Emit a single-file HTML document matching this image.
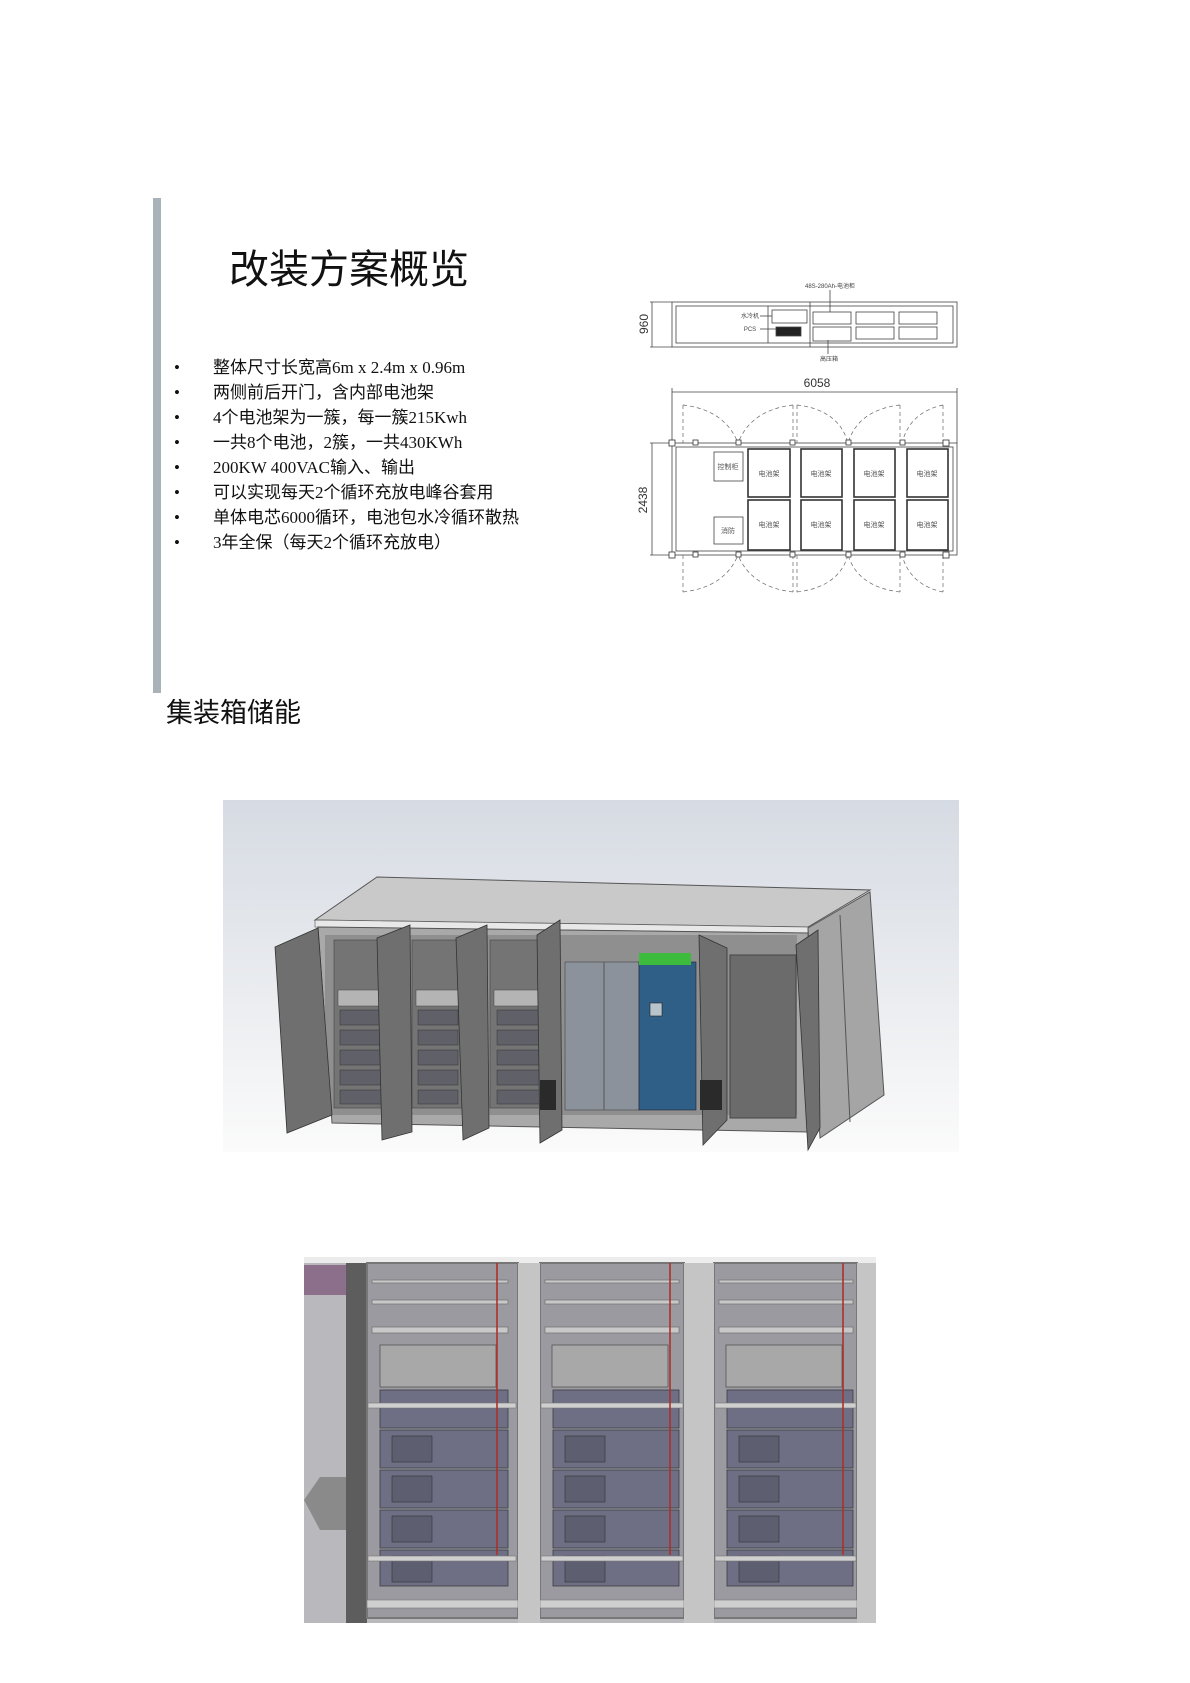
<!DOCTYPE html>
<html><head><meta charset="utf-8"><style>
html,body{margin:0;padding:0;background:#fff;}
body{width:1190px;height:1683px;position:relative;overflow:hidden;}
.t{position:absolute;font-family:"Liberation Sans","Noto Sans CJK SC",sans-serif;color:#111;white-space:nowrap;}
.b{position:absolute;font-family:"Liberation Serif","Noto Sans CJK SC",serif;font-size:17px;color:#111;white-space:nowrap;line-height:20px;}
svg{position:absolute;left:0;top:0;}
</style></head><body>
<div style="position:absolute;left:153px;top:198px;width:8px;height:495px;background:#a9b1b9;"></div>
<div class="t" style="left:229px;top:246px;font-size:40px;line-height:48px;">改装方案概览</div>
<div class="b" style="left:174px;top:358px;">•</div><div class="b" style="left:213px;top:358px;">整体尺寸长宽高6m x 2.4m x 0.96m</div>
<div class="b" style="left:174px;top:383px;">•</div><div class="b" style="left:213px;top:383px;">两侧前后开门，含内部电池架</div>
<div class="b" style="left:174px;top:408px;">•</div><div class="b" style="left:213px;top:408px;">4个电池架为一簇，每一簇215Kwh</div>
<div class="b" style="left:174px;top:433px;">•</div><div class="b" style="left:213px;top:433px;">一共8个电池，2簇，一共430KWh</div>
<div class="b" style="left:174px;top:458px;">•</div><div class="b" style="left:213px;top:458px;">200KW 400VAC输入、输出</div>
<div class="b" style="left:174px;top:483px;">•</div><div class="b" style="left:213px;top:483px;">可以实现每天2个循环充放电峰谷套用</div>
<div class="b" style="left:174px;top:508px;">•</div><div class="b" style="left:213px;top:508px;">单体电芯6000循环，电池包水冷循环散热</div>
<div class="b" style="left:174px;top:533px;">•</div><div class="b" style="left:213px;top:533px;">3年全保（每天2个循环充放电）</div>
<div class="t" style="left:166px;top:697px;font-size:27px;line-height:32px;">集装箱储能</div>

<svg width="1190" height="1683" viewBox="0 0 1190 1683" font-family="Liberation Sans, Noto Sans CJK SC, sans-serif">
<!-- side view -->
<g stroke="#444" fill="none" stroke-width="0.8">
<rect x="672" y="302" width="285" height="45"/>
<rect x="676" y="306" width="277" height="37"/>
<line x1="650" y1="302" x2="672" y2="302"/><line x1="650" y1="347" x2="672" y2="347"/><line x1="652" y1="302" x2="652" y2="347"/>
<line x1="768" y1="306" x2="768" y2="343"/><line x1="810" y1="302" x2="810" y2="347"/>
<rect x="772" y="310" width="35" height="13"/><rect x="776" y="327" width="25" height="9" fill="#222"/>
<rect x="813" y="312" width="38" height="12"/><rect x="856" y="312" width="38" height="12"/><rect x="899" y="312" width="38" height="12"/>
<rect x="813" y="327" width="38" height="14"/><rect x="856" y="327" width="38" height="12"/><rect x="899" y="327" width="38" height="12"/>
<line x1="830" y1="290" x2="830" y2="312"/><line x1="828" y1="340" x2="828" y2="354"/>
<line x1="760" y1="316" x2="772" y2="316"/><line x1="760" y1="329" x2="776" y2="329"/>
</g>
<text x="830" y="288" font-size="6" text-anchor="middle" fill="#444">48S-280Ah-电池柜</text>
<text x="750" y="318" font-size="6" text-anchor="middle" fill="#444">水冷机</text>
<text x="750" y="331" font-size="6" text-anchor="middle" fill="#444">PCS</text>
<text x="829" y="361" font-size="6" text-anchor="middle" fill="#444">高压箱</text>
<text x="648" y="324" font-size="12" fill="#333" text-anchor="middle" transform="rotate(-90 648 324)">960</text>
<!-- plan -->
<text x="817" y="387" font-size="12" fill="#333" text-anchor="middle">6058</text>
<text x="647" y="500" font-size="12" fill="#333" text-anchor="middle" transform="rotate(-90 647 500)">2438</text>
<g stroke="#444" fill="none" stroke-width="0.8">
<line x1="672" y1="392" x2="957" y2="392"/><line x1="672" y1="388" x2="672" y2="443"/><line x1="957" y1="388" x2="957" y2="443"/>
<line x1="650" y1="443" x2="672" y2="443"/><line x1="650" y1="555" x2="672" y2="555"/><line x1="652" y1="443" x2="652" y2="555"/>
<rect x="672" y="443" width="285" height="112"/>
<rect x="676" y="447" width="277" height="104"/>
<rect x="714" y="452" width="29" height="29"/><rect x="714" y="517" width="29" height="27"/>
</g>
<g stroke="#333" fill="none" stroke-width="1.6">
<rect x="748" y="449" width="42" height="48"/><rect x="748" y="500" width="42" height="50"/>
<rect x="801" y="449" width="41" height="48"/><rect x="801" y="500" width="41" height="50"/>
<rect x="854" y="449" width="41" height="48"/><rect x="854" y="500" width="41" height="50"/>
<rect x="907" y="449" width="41" height="48"/><rect x="907" y="500" width="41" height="50"/>
</g>
<g font-size="7" fill="#555" text-anchor="middle">
<text x="728" y="469">控制柜</text><text x="728" y="533">消防</text>
<text x="769" y="476">电池架</text><text x="821" y="476">电池架</text><text x="874" y="476">电池架</text><text x="927" y="476">电池架</text>
<text x="769" y="527">电池架</text><text x="821" y="527">电池架</text><text x="874" y="527">电池架</text><text x="927" y="527">电池架</text>
</g>
<g stroke="#666" fill="none" stroke-width="0.7" stroke-dasharray="4,3">
<line x1="683" y1="405" x2="683" y2="443"/><path d="M683 405 Q725 410 738 443"/>
<line x1="793" y1="405" x2="793" y2="443"/><path d="M793 405 Q751 410 738 443"/>
<line x1="797" y1="405" x2="797" y2="443"/><path d="M797 405 Q839 410 848 443"/>
<line x1="900" y1="405" x2="900" y2="443"/><path d="M900 405 Q858 410 848 443"/>
<line x1="943" y1="405" x2="943" y2="443"/><path d="M943 405 Q910 412 902 443"/>
<line x1="683" y1="555" x2="683" y2="592"/><path d="M683 592 Q725 587 738 555"/>
<line x1="793" y1="555" x2="793" y2="592"/><path d="M793 592 Q751 587 738 555"/>
<line x1="797" y1="555" x2="797" y2="592"/><path d="M797 592 Q839 587 848 555"/>
<line x1="900" y1="555" x2="900" y2="592"/><path d="M900 592 Q858 587 848 555"/>
<line x1="943" y1="555" x2="943" y2="592"/><path d="M943 592 Q910 585 902 555"/>
</g>
<g fill="#fff" stroke="#333" stroke-width="0.8">
<rect x="669" y="440" width="6" height="6"/><rect x="693" y="440" width="5" height="5"/><rect x="736" y="440" width="5" height="5"/><rect x="790" y="440" width="5" height="5"/><rect x="846" y="440" width="5" height="5"/><rect x="900" y="440" width="5" height="5"/><rect x="943" y="440" width="6" height="6"/>
<rect x="669" y="552" width="6" height="6"/><rect x="693" y="552" width="5" height="5"/><rect x="736" y="552" width="5" height="5"/><rect x="790" y="552" width="5" height="5"/><rect x="846" y="552" width="5" height="5"/><rect x="900" y="552" width="5" height="5"/><rect x="943" y="552" width="6" height="6"/>
</g>

<!-- render 1 -->
<defs>
<linearGradient id="bg1" x1="0" y1="0" x2="0" y2="1"><stop offset="0" stop-color="#d6dbe3"/><stop offset="0.6" stop-color="#eceef1"/><stop offset="1" stop-color="#fbfbfb"/></linearGradient>
</defs>
<rect x="223" y="800" width="736" height="352" fill="url(#bg1)"/>
<polygon points="315,920 377,877 870,890 808,927" fill="#c9c9c9" stroke="#555" stroke-width="1"/>
<polygon points="315,920 808,927 808,933 315,927" fill="#e8e8e8" stroke="#666" stroke-width="0.7"/>
<polygon points="318,927 808,933 808,1132 332,1123" fill="#a9a9a9" stroke="#555" stroke-width="1"/>
<polygon points="808,928 870,892 884,1095 820,1138" fill="#a5a5a5" stroke="#555" stroke-width="1"/>
<line x1="840" y1="915" x2="850" y2="1122" stroke="#555"/>
<rect x="325" y="935" width="472" height="180" fill="#8f8f8f"/>
<g fill="#747474" stroke="#444" stroke-width="0.6">
<rect x="334" y="940" width="54" height="168"/><rect x="412" y="940" width="52" height="168"/><rect x="490" y="940" width="58" height="168"/>
</g>
<g fill="#5f6068" stroke="#333" stroke-width="0.5">
<rect x="340" y="1010" width="42" height="15"/><rect x="340" y="1030" width="42" height="15"/><rect x="340" y="1050" width="42" height="15"/><rect x="340" y="1070" width="42" height="15"/><rect x="340" y="1090" width="42" height="14"/>
<rect x="418" y="1010" width="40" height="15"/><rect x="418" y="1030" width="40" height="15"/><rect x="418" y="1050" width="40" height="15"/><rect x="418" y="1070" width="40" height="15"/><rect x="418" y="1090" width="40" height="14"/>
<rect x="497" y="1010" width="44" height="15"/><rect x="497" y="1030" width="44" height="15"/><rect x="497" y="1050" width="44" height="15"/><rect x="497" y="1070" width="44" height="15"/><rect x="497" y="1090" width="44" height="14"/>
</g>
<g fill="#b4b4b4" stroke="#444" stroke-width="0.5"><rect x="338" y="990" width="46" height="16"/><rect x="416" y="990" width="44" height="16"/><rect x="494" y="990" width="48" height="16"/></g>
<rect x="565" y="962" width="74" height="148" fill="#8c929c" stroke="#444" stroke-width="0.6"/>
<line x1="604" y1="962" x2="604" y2="1110" stroke="#555"/>
<rect x="639" y="962" width="57" height="148" fill="#2f5f86" stroke="#223" stroke-width="0.6"/>
<rect x="639" y="953" width="52" height="12" fill="#3dbb3d"/>
<rect x="650" y="1003" width="12" height="13" fill="#b8c4cc" stroke="#222" stroke-width="0.6"/>
<rect x="730" y="955" width="66" height="163" fill="#6b6b6b" stroke="#444"/>
<g fill="#6f6f6f" stroke="#333" stroke-width="0.8">
<polygon points="275,947 318,928 332,1115 287,1133"/>
<polygon points="377,938 410,925 412,1132 382,1140"/>
<polygon points="456,938 487,925 489,1128 463,1140"/>
<polygon points="537,935 560,920 562,1130 540,1143"/>
<polygon points="699,935 727,948 727,1120 703,1145"/>
<polygon points="796,945 818,930 820,1128 808,1150"/>
</g>
<rect x="700" y="1080" width="22" height="30" fill="#2a2a2a"/>
<rect x="540" y="1080" width="16" height="30" fill="#2a2a2a"/>

<!-- render 2 -->
<rect x="304" y="1257" width="572" height="366" fill="#b9b9bd"/>
<rect x="304" y="1257" width="572" height="6" fill="#ececec"/>
<rect x="304" y="1265" width="42" height="30" fill="#8c6f8a"/>
<polygon points="304,1500 320,1477 346,1477 346,1530 320,1530" fill="#8a8a8a"/>
<rect x="346" y="1263" width="21" height="360" fill="#5d5d5d"/>
<g>
<rect x="367" y="1263" width="151" height="355" fill="#9a9aa0" stroke="#777" stroke-width="2"/>
<rect x="540" y="1263" width="144" height="355" fill="#9a9aa0" stroke="#777" stroke-width="2"/>
<rect x="714" y="1263" width="143" height="355" fill="#9a9aa0" stroke="#777" stroke-width="2"/>
</g>
<g fill="#c8c8c8" stroke="#777" stroke-width="0.8">
<rect x="372" y="1327" width="136" height="6"/><rect x="545" y="1327" width="134" height="6"/><rect x="719" y="1327" width="134" height="6"/>
<rect x="372" y="1300" width="136" height="4"/><rect x="545" y="1300" width="134" height="4"/><rect x="719" y="1300" width="134" height="4"/>
<rect x="372" y="1280" width="136" height="3"/><rect x="545" y="1280" width="134" height="3"/><rect x="719" y="1280" width="134" height="3"/>
</g>
<g fill="#a8a8a8" stroke="#555" stroke-width="0.8">
<rect x="380" y="1345" width="116" height="42"/><rect x="552" y="1345" width="116" height="42"/><rect x="726" y="1345" width="116" height="42"/>
</g>
<g fill="#6e6f84" stroke="#3a3a44" stroke-width="0.8">
<rect x="380" y="1390" width="128" height="38"/><rect x="380" y="1430" width="128" height="38"/><rect x="380" y="1470" width="128" height="38"/><rect x="380" y="1510" width="128" height="38"/><rect x="380" y="1550" width="128" height="36"/>
<rect x="553" y="1390" width="126" height="38"/><rect x="553" y="1430" width="126" height="38"/><rect x="553" y="1470" width="126" height="38"/><rect x="553" y="1510" width="126" height="38"/><rect x="553" y="1550" width="126" height="36"/>
<rect x="727" y="1390" width="126" height="38"/><rect x="727" y="1430" width="126" height="38"/><rect x="727" y="1470" width="126" height="38"/><rect x="727" y="1510" width="126" height="38"/><rect x="727" y="1550" width="126" height="36"/>
</g>
<g fill="#5d5e70" stroke="#333" stroke-width="0.6">
<rect x="392" y="1436" width="40" height="26"/><rect x="392" y="1476" width="40" height="26"/><rect x="392" y="1516" width="40" height="26"/><rect x="392" y="1556" width="40" height="26"/>
<rect x="565" y="1436" width="40" height="26"/><rect x="565" y="1476" width="40" height="26"/><rect x="565" y="1516" width="40" height="26"/><rect x="565" y="1556" width="40" height="26"/>
<rect x="739" y="1436" width="40" height="26"/><rect x="739" y="1476" width="40" height="26"/><rect x="739" y="1516" width="40" height="26"/><rect x="739" y="1556" width="40" height="26"/>
</g>
<g fill="#cfcfcf" stroke="#777" stroke-width="0.6">
<rect x="368" y="1403" width="148" height="5"/><rect x="541" y="1403" width="142" height="5"/><rect x="715" y="1403" width="141" height="5"/>
<rect x="368" y="1556" width="148" height="5"/><rect x="541" y="1556" width="142" height="5"/><rect x="715" y="1556" width="141" height="5"/>
<rect x="367" y="1600" width="151" height="8"/><rect x="540" y="1600" width="144" height="8"/><rect x="714" y="1600" width="143" height="8"/>
</g>
<g stroke="#b0302a" stroke-width="1.6">
<line x1="497" y1="1263" x2="497" y2="1555"/><line x1="670" y1="1263" x2="670" y2="1555"/><line x1="843" y1="1263" x2="843" y2="1555"/>
</g>
<g fill="#c5c5c5"><rect x="518" y="1263" width="22" height="360"/><rect x="684" y="1263" width="30" height="360"/><rect x="857" y="1263" width="19" height="360"/></g>
</svg>
</body></html>
